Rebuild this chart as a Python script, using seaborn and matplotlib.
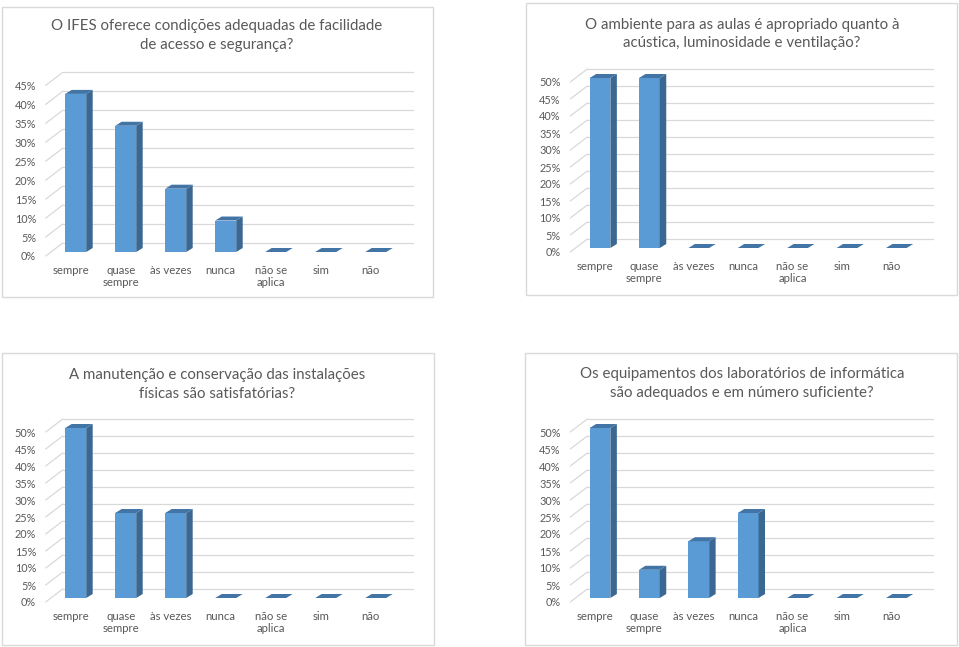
import matplotlib
matplotlib.use("Agg")
import matplotlib.pyplot as plt
import seaborn as sns
import pandas as pd
from matplotlib.patches import Polygon, Rectangle
from matplotlib.transforms import ScaledTranslation

# ---------------- data ----------------
categories = ["sempre", "quase\nsempre", "às vezes", "nunca", "não se\naplica", "sim", "não"]

title_acesso = "O IFES oferece condições adequadas de facilidade\nde acesso e segurança?"
title_ambiente = "O ambiente para as aulas é apropriado quanto à\nacústica, luminosidade e ventilação?"
title_manutencao = "A manutenção e conservação das instalações\nfísicas são satisfatórias?"
title_laboratorios = "Os equipamentos dos laboratórios de informática\nsão adequados e em número suficiente?"

acesso = [41.7, 33.3, 16.7, 8.3, 0, 0, 0]
ambiente = [50, 50, 0, 0, 0, 0, 0]
manutencao = [50, 25, 25, 0, 0, 0, 0]
laboratorios = [50, 8.3, 16.7, 25, 0, 0, 0]

ticks_45 = [0, 5, 10, 15, 20, 25, 30, 35, 40, 45]
ticks_50 = [0, 5, 10, 15, 20, 25, 30, 35, 40, 45, 50]

# ---------------- style ----------------
sns.set_theme(style="white")
plt.rcParams["font.family"] = ["Lato", "DejaVu Sans"]

W, H = 959, 647
fig = plt.figure(figsize=(W / 100, H / 100), dpi=100)
fig.patch.set_facecolor("white")

FRONT = "#5B9BD5"
SIDE = "#3A6892"
TOP = "#4274A6"
GRID = "#D9D9D9"
TXT = "#595959"

panels = [
    dict(vals=acesso, title=title_acesso, ticks=ticks_45, ymax=45,
         ax_px=(50.7, 252, 350, 170.6), box=(2, 7, 433, 297), tpos=(217, 35.5)),
    dict(vals=ambiente, title=title_ambiente, ticks=ticks_50, ymax=50,
         ax_px=(575.3, 248, 345.7, 170), box=(526, 3, 957, 295), tpos=(742, 34)),
    dict(vals=manutencao, title=title_manutencao, ticks=ticks_50, ymax=50,
         ax_px=(50.7, 598, 350, 170), box=(2, 353, 434, 645), tpos=(217, 384.5)),
    dict(vals=laboratorios, title=title_laboratorios, ticks=ticks_50, ymax=50,
         ax_px=(575.3, 598, 345.7, 170), box=(525, 353, 957, 645), tpos=(742, 383.5)),
]

for p in panels:
    # panel border
    x0, y0, x1, y1 = p["box"]
    fig.patches.append(Rectangle((x0 / W, 1 - y1 / H), (x1 - x0) / W, (y1 - y0) / H,
                                 transform=fig.transFigure, fill=False,
                                 edgecolor=GRID, linewidth=1.0, zorder=0))
    # title
    fig.text(p["tpos"][0] / W, 1 - p["tpos"][1] / H, p["title"], ha="center", va="center",
             fontsize=10.8, color=TXT, linespacing=1.42)

    axl, axb, axw, axh = p["ax_px"]
    ax = fig.add_axes([axl / W, 1 - axb / H, axw / W, axh / H])
    ax.set_facecolor("none")

    df = pd.DataFrame({"cat": categories, "val": p["vals"]})
    sns.barplot(data=df, x="cat", y="val", ax=ax, color=FRONT, saturation=1,
                width=0.42, edgecolor="none", zorder=3)

    n = len(categories)
    ax.set_xlim(-0.5, n - 0.5)
    ax.set_ylim(0, p["ymax"])
    pxx = axw / n          # px per x unit
    pxy = axh / p["ymax"]  # px per y unit

    # 3D depth of bars
    bx, by = 6.5 / pxx, 4.0 / pxy
    for bar in list(ax.patches):
        bx0, bw, bh = bar.get_x(), bar.get_width(), bar.get_height()
        side = Polygon([(bx0 + bw, 0), (bx0 + bw + bx, by), (bx0 + bw + bx, bh + by), (bx0 + bw, bh)],
                       closed=True, facecolor=SIDE, edgecolor="none", zorder=3, clip_on=False)
        top = Polygon([(bx0, bh), (bx0 + bx, bh + by), (bx0 + bw + bx, bh + by), (bx0 + bw, bh)],
                      closed=True, facecolor=TOP, edgecolor="none", zorder=3.5, clip_on=False)
        ax.add_patch(side)
        ax.add_patch(top)

    # back-wall gridlines and side-wall diagonals
    gx, gy = 12 / pxx, 9 / pxy
    fx, fy = -5 / pxx, -4 / pxy
    for t in p["ticks"]:
        ax.plot([-0.5 + gx, n - 0.5 + gx], [t + gy, t + gy], color=GRID, lw=0.9,
                zorder=1, clip_on=False)
        ax.plot([-0.5 + fx, -0.5 + gx], [t + fy, t + gy], color=GRID, lw=0.9,
                zorder=1, clip_on=False)

    ax.set_yticks(p["ticks"])
    ax.set_yticklabels([f"{t}%" for t in p["ticks"]])
    ax.set_xticks(range(n))
    ax.set_xticklabels(categories)
    ax.tick_params(axis="y", length=0, pad=10.5, labelsize=7.8, labelcolor=TXT)
    ax.tick_params(axis="x", length=0, pad=9.2, labelsize=8.2, labelcolor=TXT)
    for lab in ax.get_yticklabels():
        lab.set_transform(lab.get_transform() + ScaledTranslation(0, -0.04, fig.dpi_scale_trans))
    for lab in ax.get_xticklabels():
        lab.set_transform(lab.get_transform() + ScaledTranslation(-0.05, 0, fig.dpi_scale_trans))
        lab.set_linespacing(1.12)
    ax.set_xlabel("")
    ax.set_ylabel("")
    for s in ax.spines.values():
        s.set_visible(False)
    ax.grid(False)

fig.savefig("out.png", dpi=100, facecolor="white")
